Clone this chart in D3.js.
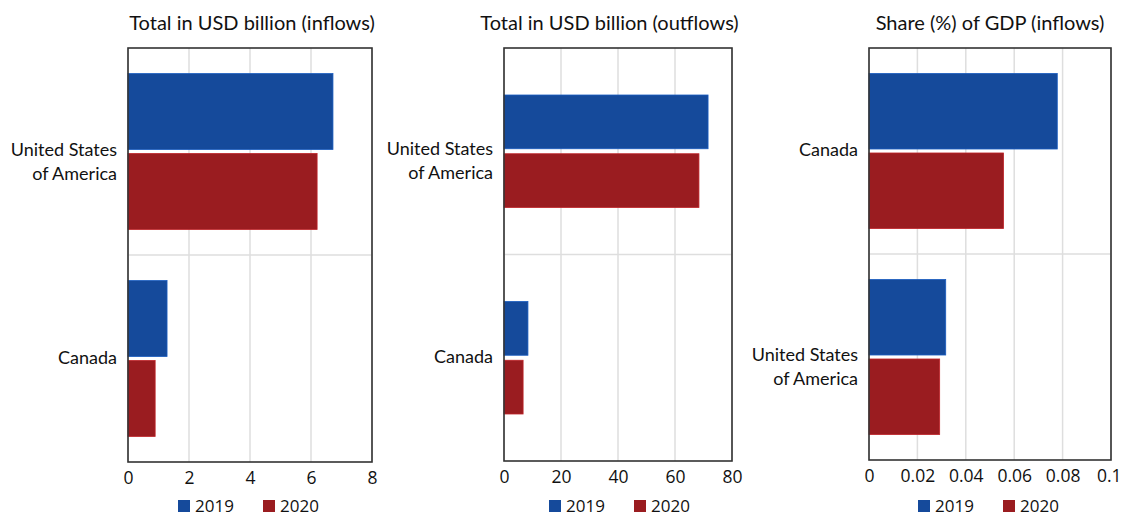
<!DOCTYPE html>
<html>
<head>
<meta charset="utf-8">
<script src="https://cdn.jsdelivr.net/npm/d3@7/dist/d3.min.js"></script>
<style>
  body { margin: 0; background: #fff; }
  svg { display: block; }
</style>
</head>
<body>
<svg id="chart" width="1122" height="516"></svg>
<script>
// ---- data ----
const seriesNames = ["2019", "2020"];
const seriesColors = ["#154A9B", "#9A1C20"];

const inflowCategories = ["United States of America", "Canada"];
const inflows2019 = [6.72, 1.28];
const inflows2020 = [6.2, 0.89];
const inflowTicks = [0, 2, 4, 6, 8];

const outflowCategories = ["United States of America", "Canada"];
const outflows2019 = [71.6, 8.4];
const outflows2020 = [68.4, 6.7];
const outflowTicks = [0, 20, 40, 60, 80];

const shareCategories = ["Canada", "United States of America"];
const share2019 = [0.0778, 0.0317];
const share2020 = [0.0556, 0.0292];
const shareTicks = [0, 0.02, 0.04, 0.06, 0.08, 0.1];

const titles = ["Total in USD billion (inflows)", "Total in USD billion (outflows)", "Share (%) of GDP (inflows)"];

const labelLines = {
  "United States of America": ["United States", "of America"],
  "Canada": ["Canada"]
};

const svg = d3.select("#chart");
const W = 1122;

function drawPanel(cfg) {
  const g = svg.append("g");
  const x = d3.scaleLinear().domain([cfg.ticks[0], cfg.ticks[cfg.ticks.length - 1]]).range([cfg.left, cfg.right]);
  const y = d3.scaleBand().domain(cfg.categories).range([cfg.top, cfg.bottom]);
  const inner = d3.scaleBand().domain(seriesNames).range([0, y.bandwidth()])
    .paddingInner(cfg.pIn).paddingOuter(cfg.pOut);

  // vertical gridlines
  g.selectAll(".vgrid").data(cfg.ticks).join("line")
    .attr("x1", d => x(d)).attr("x2", d => x(d))
    .attr("y1", cfg.top).attr("y2", cfg.bottom)
    .attr("stroke", "#dedede").attr("stroke-width", 1.5);
  // horizontal separator between categories
  g.selectAll(".hgrid").data(cfg.categories.slice(1)).join("line")
    .attr("x1", cfg.left).attr("x2", cfg.right)
    .attr("y1", d => y(d)).attr("y2", d => y(d))
    .attr("stroke", "#dedede").attr("stroke-width", 1.5);

  // bars
  const rows = [];
  cfg.categories.forEach((c, i) => {
    seriesNames.forEach((s, j) => rows.push({ cat: c, s, j, v: cfg.values[j][i] }));
  });
  g.selectAll(".bar").data(rows).join("rect")
    .attr("x", x(0))
    .attr("y", d => y(d.cat) + inner(d.s))
    .attr("width", d => x(d.v) - x(0))
    .attr("height", inner.bandwidth())
    .attr("fill", d => seriesColors[d.j])
    .attr("stroke", d => d3.color(seriesColors[d.j]).brighter(0.6))
    .attr("stroke-width", 0.8);

  // frame
  g.append("rect")
    .attr("x", cfg.left).attr("y", cfg.top)
    .attr("width", cfg.right - cfg.left).attr("height", cfg.bottom - cfg.top)
    .attr("fill", "none").attr("stroke", "#333").attr("stroke-width", 1.6);

  // x axis tick labels
  const axis = d3.axisBottom(x).tickValues(cfg.ticks).tickSize(0).tickPadding(10)
    .tickFormat(d => String(+d.toFixed(4)));
  const ax = g.append("g").attr("transform", `translate(0,${cfg.bottom})`).call(axis);
  ax.select(".domain").remove();
  ax.selectAll("text").attr("font-family", "'Open Sans', sans-serif").attr("font-size", 17.5).attr("fill", "#111");
  // keep a label that would run past the page edge inside it
  ax.selectAll(".tick text").each(function () {
    const bb = this.getBBox();
    const tx = x(d3.select(this.parentNode).datum());
    const over = tx + bb.x + bb.width - (W - 1);
    if (over > 0) d3.select(this).attr("dx", -over);
  });

  // category labels
  cfg.categories.forEach(c => {
    const lines = labelLines[c];
    const cy = y(c) + y.bandwidth() / 2;
    const t = g.append("text")
      .attr("text-anchor", "end")
      .attr("font-family", "Lato, sans-serif").attr("font-size", 18).attr("fill", "#111");
    lines.forEach((ln, k) => {
      const off = lines.length === 1 ? 5 : (k === 0 ? 4 : 28);
      t.append("tspan").attr("x", cfg.left - 11).attr("y", cy + off).text(ln);
    });
  });

  // title
  g.append("text")
    .attr("x", cfg.titleX).attr("y", 30)
    .attr("text-anchor", "middle")
    .attr("font-family", "Lato, sans-serif").attr("font-size", 20).attr("fill", "#111")
    .text(cfg.title);

  // legend
  const lg = g.append("g");
  seriesNames.forEach((s, j) => {
    const lx = cfg.legendX + j * 85;
    lg.append("rect").attr("x", lx).attr("y", 500).attr("width", 12).attr("height", 12)
      .attr("fill", seriesColors[j]);
    lg.append("text").attr("x", lx + 17).attr("y", 512)
      .attr("font-family", "'Open Sans', sans-serif").attr("font-size", 17).attr("fill", "#111")
      .text(s);
  });
}

drawPanel({ categories: inflowCategories, values: [inflows2019, inflows2020], ticks: inflowTicks,
  left: 128, right: 372, top: 48, bottom: 462, pIn: 0.05, pOut: 0.32,
  title: titles[0], titleX: 252, legendX: 178 });
drawPanel({ categories: outflowCategories, values: [outflows2019, outflows2020], ticks: outflowTicks,
  left: 504, right: 732, top: 48, bottom: 461, pIn: 0.085, pOut: 0.8,
  title: titles[1], titleX: 609.5, legendX: 549 });
drawPanel({ categories: shareCategories, values: [share2019, share2020], ticks: shareTicks,
  left: 869, right: 1111, top: 48, bottom: 460, pIn: 0.05, pOut: 0.32,
  title: titles[2], titleX: 990, legendX: 918 });
</script>
</body>
</html>
